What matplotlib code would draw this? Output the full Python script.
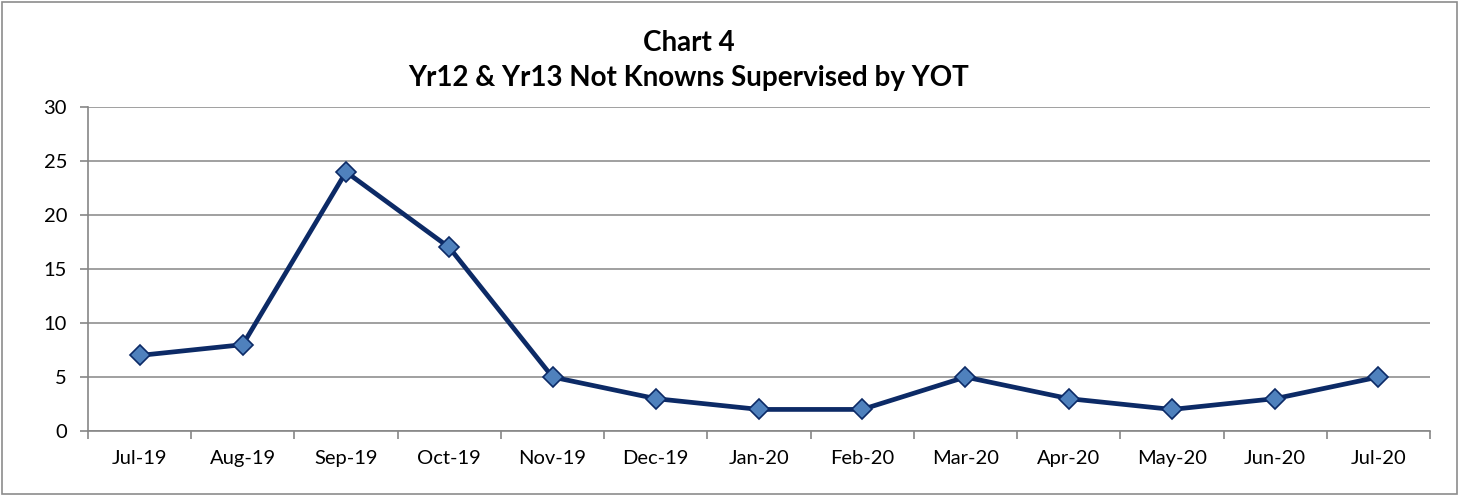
import matplotlib
matplotlib.use("Agg")
import matplotlib.pyplot as plt
from matplotlib.patches import Rectangle

months = ["Jul-19", "Aug-19", "Sep-19", "Oct-19", "Nov-19", "Dec-19", "Jan-20",
          "Feb-20", "Mar-20", "Apr-20", "May-20", "Jun-20", "Jul-20"]
values = [7, 8, 24, 17, 5, 3, 2, 2, 5, 3, 2, 3, 5]
title_lines = ["Chart 4", "Yr12 & Yr13 Not Knowns Supervised by YOT"]

plt.rcParams['font.family'] = ['Lato', 'DejaVu Sans']

fig = plt.figure(figsize=(14.61, 4.96), dpi=100)
fig.patches.append(Rectangle((0.0015, 0.004), 0.9955, 0.992, transform=fig.transFigure,
                             fill=False, edgecolor="#8c8c8c", linewidth=1.2))
ax = fig.add_axes([0.0602, 0.131, 0.9186, 0.653])

x = list(range(len(months)))
ax.plot(x, values, color="#0c2a66", linewidth=3.4, marker="D", markersize=10,
        markerfacecolor="#4f81bd", markeredgecolor="#0c2a66", markeredgewidth=1.2, zorder=3)

ax.set_xlim(-0.5, len(months) - 0.5)
ax.set_ylim(0, 30)
ax.set_yticks(range(0, 31, 5))
ax.set_xticks(x)
ax.set_xticklabels(months, fontsize=14.5)
ax.set_xticks([i - 0.5 for i in range(len(months) + 1)], minor=True)
ax.tick_params(axis='x', which='major', length=0, pad=14)
ax.tick_params(axis='x', which='minor', length=6, color="#868686", width=1.2, direction='out')
ax.tick_params(axis='y', length=6, color="#868686", width=1.2, labelsize=14.5, pad=9)

ax.grid(axis='y', color="#868686", linewidth=1.1)
ax.set_axisbelow(True)
for s in ["top", "right"]:
    ax.spines[s].set_visible(False)
for s in ["left", "bottom"]:
    ax.spines[s].set_color("#868686")
    ax.spines[s].set_linewidth(1.2)

fig.text(0.4716, 0.913, title_lines[0], ha="center", va="center", fontsize=20, fontweight="bold")
fig.text(0.4716, 0.843, title_lines[1], ha="center", va="center", fontsize=20, fontweight="bold")

fig.savefig("out.png", dpi=100)
